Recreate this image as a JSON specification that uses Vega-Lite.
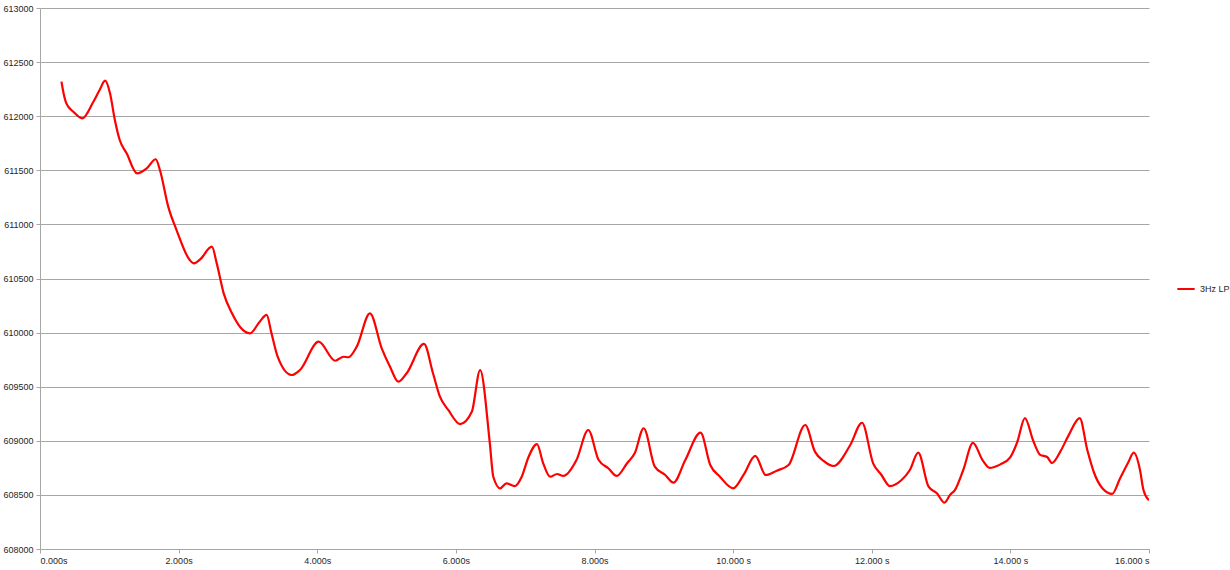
{
  "$schema": "https://vega.github.io/schema/vega-lite/v6.json",
  "width": 1109,
  "height": 541,
  "autosize": {"type": "none"},
  "padding": {"left": 40, "top": 8, "right": 81, "bottom": 21},
  "background": "white",
  "config": {"view": {"stroke": null}},
  "data": {"values": [
    {"t": 0.31, "v": 612319}, {"t": 0.34, "v": 612212}, {"t": 0.38, "v": 612119}, {"t": 0.48, "v": 612042},
    {"t": 0.61, "v": 611980}, {"t": 0.77, "v": 612134}, {"t": 0.86, "v": 612242}, {"t": 0.94, "v": 612328},
    {"t": 1.01, "v": 612212}, {"t": 1.08, "v": 611965}, {"t": 1.15, "v": 611780}, {"t": 1.25, "v": 611657},
    {"t": 1.40, "v": 611472}, {"t": 1.54, "v": 611518}, {"t": 1.67, "v": 611602}, {"t": 1.73, "v": 611503},
    {"t": 1.85, "v": 611164}, {"t": 1.97, "v": 610948}, {"t": 2.16, "v": 610671}, {"t": 2.22, "v": 610640},
    {"t": 2.31, "v": 610677}, {"t": 2.48, "v": 610794}, {"t": 2.55, "v": 610640}, {"t": 2.65, "v": 610363},
    {"t": 2.77, "v": 610178}, {"t": 2.89, "v": 610049}, {"t": 3.03, "v": 609993}, {"t": 3.17, "v": 610101},
    {"t": 3.27, "v": 610163}, {"t": 3.34, "v": 609993}, {"t": 3.43, "v": 609775}, {"t": 3.63, "v": 609608},
    {"t": 3.75, "v": 609654}, {"t": 4.02, "v": 609916}, {"t": 4.26, "v": 609740}, {"t": 4.38, "v": 609777},
    {"t": 4.45, "v": 609772}, {"t": 4.57, "v": 609870}, {"t": 4.76, "v": 610178}, {"t": 4.93, "v": 609855},
    {"t": 5.05, "v": 609685}, {"t": 5.17, "v": 609546}, {"t": 5.29, "v": 609624}, {"t": 5.54, "v": 609895},
    {"t": 5.67, "v": 609624}, {"t": 5.77, "v": 609408}, {"t": 5.89, "v": 609285}, {"t": 6.06, "v": 609155},
    {"t": 6.23, "v": 609269}, {"t": 6.35, "v": 609654}, {"t": 6.49, "v": 608977}, {"t": 6.54, "v": 608668},
    {"t": 6.64, "v": 608561}, {"t": 6.73, "v": 608607}, {"t": 6.85, "v": 608582}, {"t": 6.95, "v": 608668},
    {"t": 7.05, "v": 608853}, {"t": 7.17, "v": 608970}, {"t": 7.26, "v": 608792}, {"t": 7.36, "v": 608668},
    {"t": 7.46, "v": 608693}, {"t": 7.55, "v": 608675}, {"t": 7.74, "v": 608822}, {"t": 7.91, "v": 609100},
    {"t": 8.06, "v": 608822}, {"t": 8.20, "v": 608746}, {"t": 8.32, "v": 608675}, {"t": 8.47, "v": 608792},
    {"t": 8.58, "v": 608884}, {"t": 8.71, "v": 609116}, {"t": 8.87, "v": 608761}, {"t": 9.02, "v": 608684},
    {"t": 9.14, "v": 608613}, {"t": 9.31, "v": 608822}, {"t": 9.53, "v": 609075}, {"t": 9.67, "v": 608776},
    {"t": 9.81, "v": 608668}, {"t": 10.00, "v": 608561}, {"t": 10.15, "v": 608684}, {"t": 10.32, "v": 608860},
    {"t": 10.47, "v": 608684}, {"t": 10.63, "v": 608724}, {"t": 10.80, "v": 608776}, {"t": 11.04, "v": 609146},
    {"t": 11.18, "v": 608900}, {"t": 11.30, "v": 608816}, {"t": 11.45, "v": 608767}, {"t": 11.69, "v": 608961},
    {"t": 11.86, "v": 609167}, {"t": 12.02, "v": 608792}, {"t": 12.14, "v": 608684}, {"t": 12.26, "v": 608582},
    {"t": 12.43, "v": 608638}, {"t": 12.55, "v": 608730}, {"t": 12.67, "v": 608890}, {"t": 12.82, "v": 608576},
    {"t": 12.94, "v": 608515}, {"t": 13.05, "v": 608428}, {"t": 13.13, "v": 608500}, {"t": 13.20, "v": 608545},
    {"t": 13.32, "v": 608730}, {"t": 13.46, "v": 608980}, {"t": 13.60, "v": 608820}, {"t": 13.70, "v": 608750},
    {"t": 13.85, "v": 608780}, {"t": 14.00, "v": 608850}, {"t": 14.10, "v": 608990}, {"t": 14.21, "v": 609210},
    {"t": 14.33, "v": 609000}, {"t": 14.43, "v": 608870}, {"t": 14.53, "v": 608850}, {"t": 14.60, "v": 608795},
    {"t": 14.72, "v": 608900}, {"t": 14.84, "v": 609050}, {"t": 15.00, "v": 609210}, {"t": 15.11, "v": 608915},
    {"t": 15.21, "v": 608700}, {"t": 15.33, "v": 608560}, {"t": 15.47, "v": 608510}, {"t": 15.58, "v": 608650},
    {"t": 15.70, "v": 608800}, {"t": 15.78, "v": 608890}, {"t": 15.87, "v": 608730}, {"t": 15.92, "v": 608545},
    {"t": 16.00, "v": 608450}
  ]},
  "mark": {"type": "line", "interpolate": "monotone", "strokeWidth": 2.2, "clip": true},
  "encoding": {
    "x": {
      "field": "t", "type": "quantitative",
      "scale": {"domain": [0, 16], "nice": false, "zero": false},
      "axis": {
        "title": null, "values": [0, 2, 4, 6, 8, 10, 12, 14, 16],
        "labelExpr": "format(datum.value, '.3f') + (datum.value >= 10 ? ' s' : 's')",
        "grid": false, "domainColor": "#a6a6a6", "tickColor": "#a6a6a6", "tickSize": 4,
        "labelFont": "Liberation Sans", "labelFontSize": 9, "labelColor": "#262626", "labelPadding": 3
      }
    },
    "y": {
      "field": "v", "type": "quantitative",
      "scale": {"domain": [608000, 613000], "nice": false, "zero": false},
      "axis": {
        "title": null, "values": [608000, 608500, 609000, 609500, 610000, 610500, 611000, 611500, 612000, 612500, 613000],
        "format": "d", "grid": true, "gridColor": "#a6a6a6", "gridWidth": 1.2,
        "domainColor": "#a6a6a6", "tickColor": "#a6a6a6", "tickSize": 4,
        "labelFont": "Liberation Sans", "labelFontSize": 9, "labelColor": "#262626", "labelPadding": 3
      }
    },
    "color": {
      "datum": "3Hz LP", "type": "nominal",
      "scale": {"range": ["#ff0000"]},
      "legend": {
        "title": null, "orient": "none", "legendX": 1136, "legendY": 271,
        "symbolType": "stroke", "symbolSize": 300, "symbolStrokeWidth": 2,
        "labelFont": "Liberation Sans", "labelFontSize": 9, "labelColor": "#262626"
      }
    }
  }
}
